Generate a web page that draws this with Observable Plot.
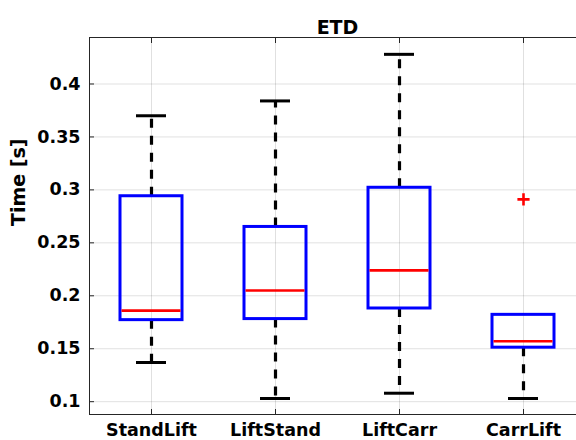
<!DOCTYPE html>
<html>
<head>
<meta charset="utf-8">
<script src="https://cdn.jsdelivr.net/npm/d3@7"></script>
<script src="https://cdn.jsdelivr.net/npm/@observablehq/plot@0.6"></script>
<style>
  html, body { margin: 0; padding: 0; background: #fff; overflow: hidden; }
  #chart { width: 576px; height: 440px; overflow: hidden; }
</style>
</head>
<body>
<div id="chart"></div>
<script>
const categories = ["StandLift", "LiftStand", "LiftCarr", "CarrLift"];
const whiskerLow  = [0.137, 0.103, 0.108, 0.103];
const q1          = [0.177, 0.178, 0.188, 0.151];
const medians     = [0.186, 0.205, 0.224, 0.157];
const q3          = [0.294, 0.265, 0.302, 0.182];
const whiskerHigh = [0.370, 0.384, 0.428, 0.182];
const outlierCats = ["CarrLift"];
const outlierVals = [0.291];
const yTicks = [0.1, 0.15, 0.2, 0.25, 0.3, 0.35, 0.4];
const title = "ETD";
const yLabel = "Time [s]";

const boxes = categories.map((c, i) => ({
  cat: c, lo: whiskerLow[i], q1: q1[i], med: medians[i], q3: q3[i], hi: whiskerHigh[i]
}));
const upper = boxes.filter(d => d.hi > d.q3);
const lower = boxes.filter(d => d.lo < d.q1);
const outliers = outlierCats.map((c, i) => ({cat: c, v: outlierVals[i]}));

const font = "DejaVu Sans, sans-serif";
const ink = "#262626";

const chart = Plot.plot({
  width: 600,
  height: 440,
  marginTop: 37,
  marginBottom: 26,
  marginLeft: 89,
  marginRight: 15,
  style: {fontFamily: font, fontWeight: "bold", fontSize: "17.5px", color: ink, maxWidth: "none", overflow: "visible", background: "#fff"},
  x: {type: "band", domain: categories, paddingInner: 0.5, paddingOuter: 0.25, label: null},
  y: {domain: [0.0879, 0.4439], label: null},
  marks: [
    Plot.gridY(yTicks, {stroke: "#000", strokeOpacity: 0.12, strokeWidth: 1}),
    Plot.gridX(categories, {stroke: "#000", strokeOpacity: 0.12, strokeWidth: 1}),
    Plot.frame({stroke: ink, strokeWidth: 1}),
    Plot.axisY(yTicks, {tickSize: 0, tickPadding: 9, tickFormat: d => String(+d.toFixed(2)), label: null, fill: "#000"}),
    Plot.axisY(yTicks, {tickSize: -5, text: null, label: null, stroke: ink}),
    Plot.axisX(categories, {tickSize: 0, tickPadding: 9, label: null, fill: "#000"}),
    Plot.axisX(categories, {tickSize: -5, text: null, label: null, stroke: ink}),
    Plot.axisX(categories, {anchor: "top", tickSize: -5, text: null, label: null, stroke: ink}),
    Plot.ruleX(upper, {x: "cat", y1: "q3", y2: "hi", stroke: "#000", strokeWidth: 3.2, strokeDasharray: "9,8"}),
    Plot.ruleX(lower, {x: "cat", y1: "q1", y2: "lo", stroke: "#000", strokeWidth: 3.2, strokeDasharray: "9,8"}),
    Plot.tickY(upper, {x: "cat", y: "hi", stroke: "#000", strokeWidth: 3, inset: 16}),
    Plot.tickY(lower, {x: "cat", y: "lo", stroke: "#000", strokeWidth: 3, inset: 16}),
    Plot.barY(boxes, {x: "cat", y1: "q1", y2: "q3", fill: "none", stroke: "#0000ff", strokeWidth: 3}),
    Plot.tickY(boxes, {x: "cat", y: "med", stroke: "#ff0000", strokeWidth: 2.6, inset: 1.5}),
    Plot.dot(outliers, {x: "cat", y: "v", symbol: "plus", r: 4, stroke: "#ff0000", strokeWidth: 2.6}),
    Plot.text([title], {frameAnchor: "top", dy: -17, fontSize: 19, fontWeight: "bold", fill: "#000"}),
    Plot.text([yLabel], {frameAnchor: "left", dx: -71, rotate: -90, fontSize: 19, fontWeight: "bold", fill: "#000"})
  ]
});
document.getElementById("chart").appendChild(chart);
</script>
</body>
</html>
